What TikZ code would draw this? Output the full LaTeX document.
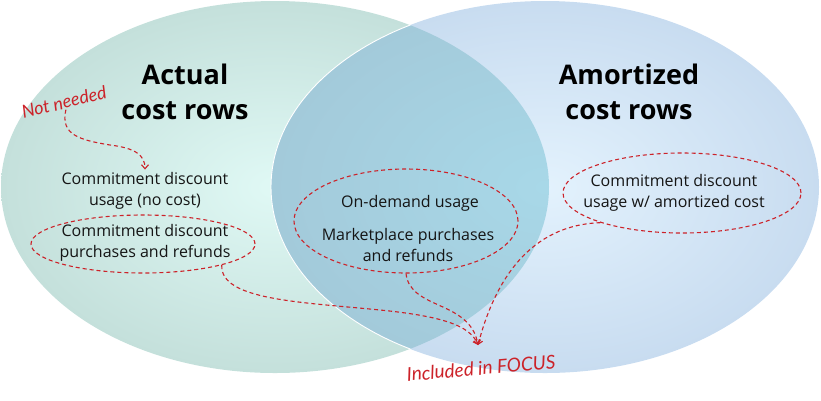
\documentclass[tikz,border=0pt]{standalone}
\usepackage{fontspec}
\setmainfont{Open Sans}
\newfontfamily\hand{Lato}
\usetikzlibrary{shapes.geometric,arrows.meta}
\definecolor{redd}{HTML}{CC2229}
\definecolor{lin}{HTML}{E0F9F5}
\definecolor{lout}{HTML}{C4E0DB}
\definecolor{rin}{HTML}{E3F2FD}
\definecolor{rout}{HTML}{C8DCF0}
\definecolor{cin}{HTML}{A8D8E8}
\definecolor{cout}{HTML}{A3CADA}
\definecolor{txt}{HTML}{151515}
\tikzset{
  body/.style={align=center, text=txt, font=\fontsize{16}{20.5}\selectfont, inner sep=3pt},
  title/.style={align=center, text=black, font=\bfseries\fontsize{27}{35}\selectfont, inner sep=0pt},
  ring/.style={ellipse, draw=redd, line width=1.1pt, dash pattern=on 4pt off 3pt, inner sep=0pt},
  conn/.style={draw=redd, line width=1.1pt, dash pattern=on 4pt off 3pt, -{Straight Barb[length=4pt,width=7pt]}},
  note/.style={text=redd, font=\hand\itshape\fontsize{18}{20}\selectfont, inner sep=1pt},
}
\begin{document}
\begin{tikzpicture}[x=1pt,y=-1pt]
\useasboundingbox (0,0) rectangle (821,400);
% circles
\shade[inner color=lin, outer color=lout] (275,187) ellipse [x radius=274pt, y radius=186pt];
\shade[inner color=rin, outer color=rout] (545,187) ellipse [x radius=274pt, y radius=186pt];
\begin{scope}
  \clip (275,187) ellipse [x radius=274pt, y radius=186pt];
  \shade[inner color=cin, outer color=cout] (545,187) ellipse [x radius=274pt, y radius=186pt];
  \draw[white, line width=0.9pt] (545,187) ellipse [x radius=274pt, y radius=186pt];
\end{scope}
% titles
\node[title] (h1) at (185,92) {Actual\\cost rows};
\node[title] (h2) at (629,92) {Amortized\\cost rows};
% texts
\node[body] (t1) at (145,191) {Commitment discount\\usage (no cost)};
\node[body] (t2) at (145,243) {Commitment discount\\purchases and refunds};
\node[body] (t3) at (410,203) {On-demand usage};
\node[body] (t4) at (408,245) {Marketplace purchases\\and refunds};
\node[body] (t5) at (674,193) {Commitment discount\\usage w/ amortized cost};
% dashed rings
\node[ring, minimum width=224pt, minimum height=58pt] (e1) at (143,244) {};
\node[ring, minimum width=224pt, minimum height=104pt] (e2) at (406,221) {};
\node[ring, minimum width=238pt, minimum height=80pt] (e3) at (682,193) {};
% notes
\node[note, rotate=14] (nn) at (64,102) {Not needed};
\node[note, rotate=5, font=\hand\itshape\fontsize{19}{20}\selectfont] (inc) at (481,368) {Included in FOCUS};
\coordinate (tip) at (478,345);
% connectors
\draw[conn] (nn.south) .. controls (60,135) and (80,140) .. (110,145) .. controls (135,148) and (145,155) .. (t1.north);
\draw[conn] (e1.-15) .. controls (220,300) and (300,302) .. (380,310) .. controls (440,316) and (470,325) .. (tip);
\draw[conn] (e2.south) .. controls (410,310) and (470,300) .. (tip);
\draw[conn] (e3.200) .. controls (530,225) and (495,280) .. (tip);
\end{tikzpicture}
\end{document}
